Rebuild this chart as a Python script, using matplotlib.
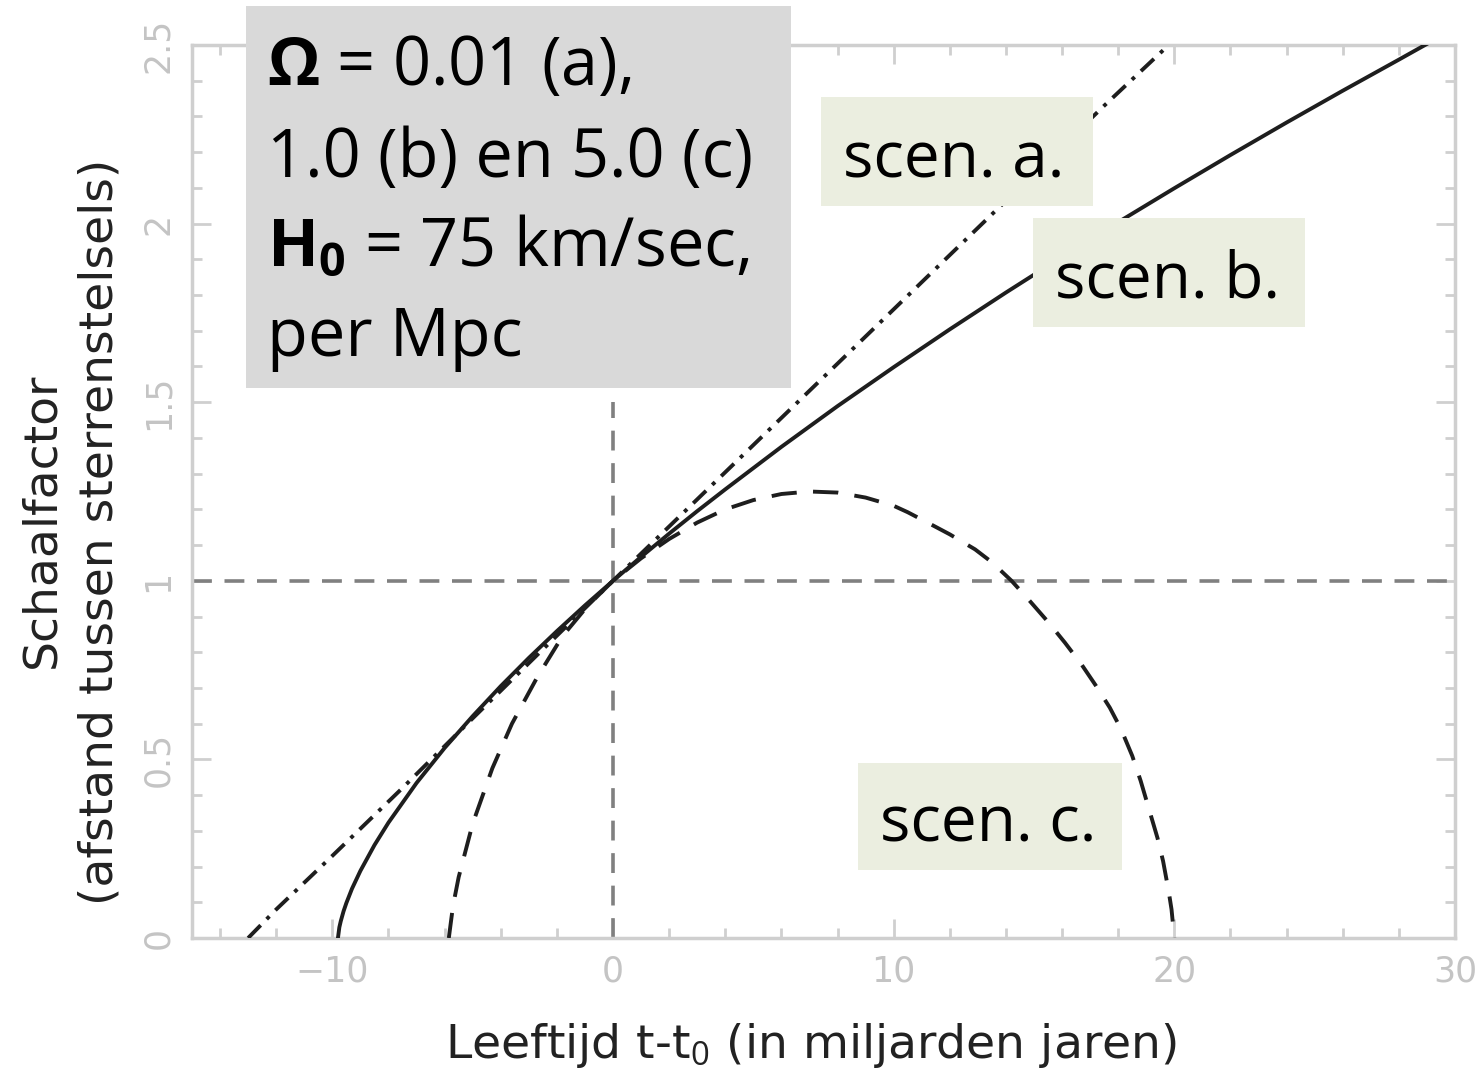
import matplotlib
matplotlib.use("Agg")
import matplotlib.pyplot as plt
from matplotlib.patches import Rectangle

# ---- data ----
# scenario a: Omega = 0.01 (dash-dot)
t_a = [-13.0, -12.0, -10.0, -7.5, -5.0, -2.5, 0.0, 2.5, 5.0, 7.5, 10.0, 12.5, 15.0, 17.5, 19.8]
a_a = [0.0, 0.08, 0.23, 0.42, 0.615, 0.808, 1.0, 1.19, 1.38, 1.57, 1.76, 1.95, 2.14, 2.33, 2.5]

# scenario b: Omega = 1.0 (solid)
t_b = [-9.8, -9.75, -9.7, -9.6, -9.5, -9.3, -9.0, -8.5, -8.0, -7.0, -6.0, -5.0, -4.0, -3.0, -2.0, -1.0,
       0.0, 1.0, 2.0, 3.0, 4.0, 6.0, 8.0, 10.0, 12.0, 14.0, 16.0, 18.0, 20.0, 22.0, 24.0, 26.0, 28.0, 29.0]
a_b = [0.0, 0.03, 0.047, 0.075, 0.098, 0.138, 0.188, 0.26, 0.323, 0.434, 0.532, 0.621, 0.705, 0.784, 0.859, 0.931,
       1.0, 1.067, 1.132, 1.195, 1.256, 1.375, 1.489, 1.598, 1.704, 1.807, 1.907, 2.004, 2.099, 2.192, 2.283, 2.372,
       2.459, 2.503]

# scenario c: Omega = 5.0 (dashed)
t_c = [-5.85, -5.8, -5.7, -5.5, -5.0, -4.3, -3.6, -2.7, -1.8, -0.9, 0.0, 1.0, 2.0, 3.0, 4.0, 5.0, 6.0, 7.0,
       8.0, 9.0, 10.0, 10.5, 11.4, 12.0, 12.9, 13.5, 14.2, 14.8, 15.5, 16.1, 16.7, 17.2, 17.7, 18.1, 18.5,
       18.8, 19.1, 19.4, 19.6, 19.8, 19.9, 20.0]
a_c = [0.0, 0.03, 0.09, 0.17, 0.32, 0.475, 0.60, 0.73, 0.845, 0.93, 1.0, 1.063, 1.117, 1.163, 1.20, 1.226, 1.243, 1.25,
       1.247, 1.233, 1.21, 1.192, 1.155, 1.13, 1.088, 1.052, 1.0, 0.948, 0.885, 0.827, 0.765, 0.707, 0.645, 0.585, 0.51,
       0.44, 0.36, 0.28, 0.215, 0.13, 0.08, 0.0]

x_ticks = [-10, 0, 10, 20, 30]
x_ticklabels = ["\u221210", "0", "10", "20", "30"]
y_ticks = [0, 0.5, 1, 1.5, 2, 2.5]
y_ticklabels = ["0", "0.5", "1", "1.5", "2", "2.5"]

x_label = "Leeftijd t-t$_0$ (in miljarden jaren)"
y_label1 = "Schaalfactor"
y_label2 = "(afstand tussen sterrenstelsels)"
box_lines = [r"$\mathbf{\Omega}$ = 0.01 (a),", "1.0 (b) en 5.0 (c)",
             r"$\mathbf{H_0}$ = 75 km/sec,", "per Mpc"]
scen_labels = ["scen. a.", "scen. b.", "scen. c."]

# ---- figure ----
W, H = 1481, 1075
plt.rcParams["mathtext.fontset"] = "custom"
plt.rcParams["mathtext.rm"] = "Open Sans"
plt.rcParams["mathtext.bf"] = "Open Sans:bold"

fig = plt.figure(figsize=(W / 100, H / 100), dpi=100)
fig.patch.set_facecolor("white")

def fx(px):
    return px / W

def fy(py):
    return 1 - py / H

ax_l, ax_r, ax_t, ax_b = 192, 1455, 45, 938
ax = fig.add_axes([fx(ax_l), fy(ax_b), fx(ax_r) - fx(ax_l), fy(ax_t) - fy(ax_b)])
ax.set_xlim(-15, 30)
ax.set_ylim(0, 2.5)

axis_grey = "#cfcfcf"
for s in ax.spines.values():
    s.set_color(axis_grey)
    s.set_linewidth(2.5)

ax.set_xticks(x_ticks)
ax.set_xticklabels(x_ticklabels)
ax.set_yticks(y_ticks)
ax.set_yticklabels(y_ticklabels, rotation=90, va="center")
ax.set_xticks([v for v in range(-14, 31, 2) if v not in x_ticks], minor=True)
ax.set_yticks([i / 10 for i in range(0, 26) if (i / 10) not in y_ticks], minor=True)
ax.tick_params(which="both", direction="in", top=True, right=True, color=axis_grey, width=2)
ax.tick_params(which="major", length=14, labelsize=25, labelcolor="#c4c4c4", pad=12)
ax.tick_params(which="minor", length=7)

ref_col = "#808080"
ax.axhline(1.0, color=ref_col, lw=2.6, dashes=(5.5, 3.5), zorder=2)
ax.plot([0, 0], [0, 1.5], color=ref_col, lw=2.6, dashes=(5.5, 3.5), zorder=2)

line_col = "#1e1e1e"
ax.plot(t_a, a_a, color=line_col, lw=2.8, dashes=(4.6, 2.2, 1.0, 2.2), zorder=3)
ax.plot(t_b, a_b, color=line_col, lw=2.8, zorder=3)
ax.plot(t_c, a_c, color=line_col, lw=2.8, dashes=(6.5, 4.2), zorder=3)

# axis labels
fig.text(fx(811), fy(1046), x_label, ha="center", va="center", fontsize=34,
         family="DejaVu Sans", color="#222222")
fig.text(fx(42), fy(520), y_label1, ha="center", va="center", rotation=90, fontsize=34,
         family="DejaVu Sans", color="#222222")
fig.text(fx(100), fy(532), y_label2, ha="center", va="center", rotation=90, fontsize=34,
         family="DejaVu Sans", color="#222222")

# grey parameter box
fig.patches.append(Rectangle((fx(246), fy(388)), fx(791) - fx(246), fy(6) - fy(388),
                             transform=fig.transFigure, facecolor="#d9d9d9", edgecolor="none",
                             zorder=5))
baselines = [85, 177, 266, 356]
for txt, bl in zip(box_lines, baselines):
    fig.text(fx(267), fy(bl), txt, ha="left", va="baseline", fontsize=48,
             family="Open Sans", color="black", zorder=6)

# scenario boxes
scen_boxes = [(821, 97, 1093, 206), (1033, 218, 1305, 327), (858, 763, 1122, 870)]
scen_text_pos = [(843, 177), (1055, 298), (880, 842)]
for lab, (x0, y0, x1, y1), (tx, ty) in zip(scen_labels, scen_boxes, scen_text_pos):
    fig.patches.append(Rectangle((fx(x0), fy(y1)), fx(x1) - fx(x0), fy(y0) - fy(y1),
                                 transform=fig.transFigure, facecolor="#ebeee0",
                                 edgecolor="none", zorder=5))
    fig.text(fx(tx), fy(ty), lab, ha="left", va="baseline", fontsize=46,
             family="Open Sans", color="black", zorder=6)

fig.savefig("out.png", dpi=100)
